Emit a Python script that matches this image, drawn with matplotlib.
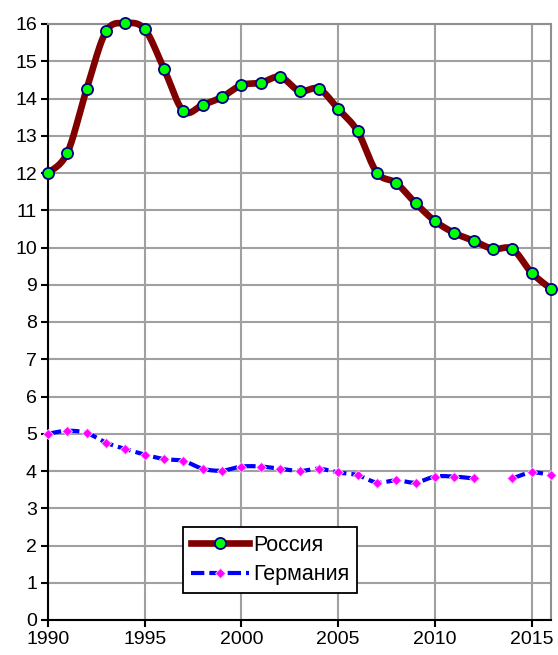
import numpy as np
import matplotlib
matplotlib.use("Agg")
import matplotlib.pyplot as plt
from matplotlib.lines import Line2D

plt.rcParams['font.family'] = ['Liberation Sans', 'DejaVu Sans']

years = list(range(1990, 2017))
russia = [12.0, 12.54, 14.26, 15.8, 16.02, 15.86, 14.79, 13.66, 13.83, 14.04,
          14.36, 14.42, 14.58, 14.2, 14.26, 13.72, 13.12, 12.01, 11.73, 11.19,
          10.71, 10.39, 10.18, 9.96, 9.96, 9.32, 8.89]
germany = [5.0, 5.08, 5.02, 4.76, 4.59, 4.44, 4.32, 4.27, 4.06, 4.01,
           4.12, 4.12, 4.06, 4.0, 4.06, 3.96, 3.89, 3.69, 3.75, 3.69,
           3.85, 3.85, 3.80, np.nan, 3.80, 3.96, 3.89]
labels = ["Россия", "Германия"]
x_ticks = [1990, 1995, 2000, 2005, 2010, 2015]
y_ticks = list(range(0, 17))


def smooth(x, y, n=20, t=0.5):
    """Cardinal-spline curve through the points, split at gaps."""
    x = np.asarray(x, float)
    y = np.asarray(y, float)
    out_x, out_y = [], []
    ok = ~np.isnan(y)
    idx = np.where(ok)[0]
    segs = np.split(idx, np.where(np.diff(idx) != 1)[0] + 1)
    for seg in segs:
        px, py = x[seg], y[seg]
        m = len(px)
        if m < 2:
            continue
        P = np.column_stack([px, py])
        sx, sy = [P[0, 0]], [P[0, 1]]
        for i in range(m - 1):
            p0 = P[max(i - 1, 0)]
            p1 = P[i]
            p2 = P[i + 1]
            p3 = P[min(i + 2, m - 1)]
            c1 = p1 + (p2 - p0) * t / 3
            c2 = p2 - (p3 - p1) * t / 3
            s = np.linspace(0, 1, n)[1:, None]
            B = ((1 - s) ** 3) * p1 + 3 * ((1 - s) ** 2) * s * c1 \
                + 3 * (1 - s) * s ** 2 * c2 + s ** 3 * p2
            sx.extend(B[:, 0])
            sy.extend(B[:, 1])
        out_x.extend(sx + [np.nan])
        out_y.extend(sy + [np.nan])
    return out_x, out_y


fig = plt.figure(figsize=(5.58, 6.55), dpi=100)
ax = fig.add_axes([48 / 558, 35 / 655, 503 / 558, 596 / 655])

ax.set_xlim(1990, 2016)
ax.set_ylim(0, 16)
ax.set_xticks(x_ticks)
ax.set_yticks(y_ticks)
ax.grid(True, color='#a0a0a0', linewidth=1.5)
ax.set_axisbelow(True)

for side in ('top', 'right'):
    ax.spines[side].set_color('#909090')
    ax.spines[side].set_linewidth(1.5)
for side in ('left', 'bottom'):
    ax.spines[side].set_color('black')
    ax.spines[side].set_linewidth(1.5)

ax.tick_params(axis='both', direction='out', length=5, width=1.5,
               color='black', labelsize=14, pad=3)

rx, ry = smooth(years, russia)
gx, gy = smooth(years, germany)

ax.plot(gx, gy, color='#0000ff', linewidth=3, dashes=(3.2, 1.2), zorder=3,
        solid_capstyle='butt', dash_capstyle='butt')
ax.plot(years, germany, linestyle='none', marker='D', markersize=5.5,
        markerfacecolor='#ff00ff', markeredgecolor='#ffccff',
        markeredgewidth=0.6, zorder=4, clip_on=False)

ax.plot(rx, ry, color='#800000', linewidth=4.8, zorder=5,
        solid_capstyle='round', clip_on=False)
ax.plot(years, russia, linestyle='none', marker='o', markersize=8,
        markerfacecolor='#00ff00', markeredgecolor='#000080',
        markeredgewidth=1.3, zorder=6, clip_on=False)

for sp in ax.spines.values():
    sp.set_zorder(2.5)

handles = [
    Line2D([], [], color='#800000', linewidth=4.8, marker='o', markersize=8,
           markerfacecolor='#00ff00', markeredgecolor='#000080',
           markeredgewidth=1.3),
    Line2D([], [], color='#0000ff', linewidth=3, dashes=(3.2, 1.2),
           marker='D', markersize=5.5, markerfacecolor='#ff00ff',
           markeredgecolor='#ffccff', markeredgewidth=0.6),
]
leg = ax.legend(handles, labels, loc='lower left',
                bbox_to_anchor=(135 / 503, 27 / 596), fontsize=15.5,
                frameon=True, fancybox=False, framealpha=1,
                edgecolor='black', handlelength=2.7, handletextpad=0.2,
                borderpad=0.35, labelspacing=0.4, borderaxespad=0)
leg.get_frame().set_linewidth(1.3)
leg.set_zorder(8)

fig.savefig('out.png', dpi=100)
